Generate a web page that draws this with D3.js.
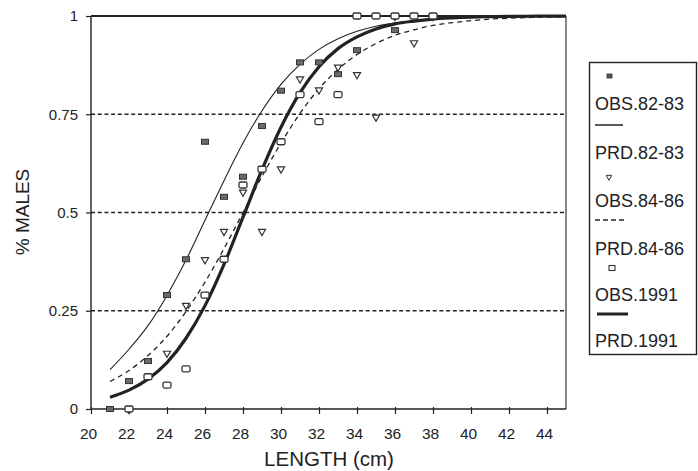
<!DOCTYPE html>
<html>
<head>
<meta charset="utf-8">
<script src="https://cdn.jsdelivr.net/npm/d3@7/dist/d3.min.js"></script>
<style>
  html, body { margin: 0; padding: 0; background: #fff; }
  svg { display: block; }
  text { font-family: "Liberation Sans", Arial, sans-serif; fill: #222; }
</style>
</head>
<body>
<svg id="chart" width="698" height="471"></svg>
<script>
// Fish length classes (cm)
const lengths = [21,22,23,24,25,26,27,28,29,30,31,32,33,34,35,36,37,38,39,40,41,42,43,44,45];

// Observed proportion of males per length class (null = no sample)
const obs8283 = [0,0.071,0.122,0.29,0.381,0.68,0.54,0.591,0.72,0.81,0.882,0.882,0.852,0.913,1,0.964,1,1,null,null,null,null,null,null,null];
const obs8486 = [null,0,null,0.143,0.265,0.381,0.453,0.553,0.453,0.612,0.841,0.813,0.871,0.852,0.744,1,0.933,1,null,null,null,null,null,null,null];
const obs1991 = [null,0,0.082,0.061,0.102,0.29,0.381,0.57,0.61,0.68,0.80,0.731,0.80,1,1,1,1,1,null,null,null,null,null,null,null];

// Predicted (fitted) proportions per length class
const prd8283 = [0.100,0.152,0.212,0.289,0.379,0.480,0.581,0.677,0.759,0.826,0.877,0.915,0.942,0.961,0.974,0.982,0.988,0.992,0.995,0.9965,0.998,0.9985,0.999,0.9993,0.9996];
const prd8486 = [0.070,0.098,0.136,0.185,0.248,0.323,0.408,0.500,0.592,0.677,0.752,0.815,0.864,0.902,0.930,0.951,0.965,0.976,0.983,0.988,0.992,0.9944,0.996,0.9973,0.998];
const prd1991 = [0.030,0.048,0.076,0.118,0.180,0.263,0.368,0.488,0.609,0.717,0.805,0.871,0.917,0.947,0.967,0.980,0.987,0.992,0.995,0.9971,0.9982,0.9989,0.9993,0.9996,0.9998];

const xTicks = [20,22,24,26,28,30,32,34,36,38,40,42,44];
const yTicks = [0,0.25,0.5,0.75,1];
const yTickLabels = ["0","0.25","0.5","0.75","1"];
const legendLabels = ["OBS.82-83","PRD.82-83","OBS.84-86","PRD.84-86","OBS.1991","PRD.1991"];

const svg = d3.select("#chart");
const x = d3.scaleLinear().domain([20,45]).range([91,566]);
const y = d3.scaleLinear().domain([0,1]).range([409,16]);
const ink = "#222";

// Dotted reference lines
svg.append("g").selectAll("line")
  .data(yTicks.filter(v => v > 0 && v < 1))
  .join("line")
  .attr("x1", x(20)).attr("x2", x(45))
  .attr("y1", d => y(d)).attr("y2", d => y(d))
  .attr("stroke", ink).attr("stroke-width", 1.6)
  .attr("stroke-dasharray", "4,2.7");

// Frame: heavy top edge, thin right edge
svg.append("line").attr("x1", x(20)).attr("x2", x(45))
  .attr("y1", y(1)).attr("y2", y(1))
  .attr("stroke", ink).attr("stroke-width", 2);
svg.append("line").attr("x1", x(45)).attr("x2", x(45))
  .attr("y1", y(1)).attr("y2", y(0))
  .attr("stroke", ink).attr("stroke-width", 1.1);

// Axes
const xAxis = d3.axisBottom(x).tickValues(xTicks).tickSize(5).tickSizeOuter(0).tickPadding(14);
const gx = svg.append("g").attr("transform", `translate(0,${y(0)})`).call(xAxis);
gx.select(".domain").attr("stroke", ink).attr("stroke-width", 1.4).attr("d", `M${x(20)},0H${x(45)}`);
gx.selectAll(".tick line").attr("stroke", ink).attr("stroke-width", 1.2).attr("y1", -2);
gx.selectAll(".tick text").attr("font-size", 15.5).attr("fill", ink).attr("dx", -3)
  .attr("font-family", "Liberation Sans, Arial, sans-serif");

const yAxis = d3.axisLeft(y).tickValues(yTicks).tickFormat((d, i) => yTickLabels[i]).tickSize(5).tickSizeOuter(0).tickPadding(8);
const gy = svg.append("g").attr("transform", `translate(${x(20)},0)`).call(yAxis);
gy.select(".domain").attr("stroke", ink).attr("stroke-width", 1.4).attr("d", `M0,${y(1)}V${y(0)}`);
gy.selectAll(".tick line").attr("stroke", ink).attr("stroke-width", 1.2);
gy.selectAll(".tick text").attr("font-size", 15).attr("fill", ink)
  .attr("font-family", "Liberation Sans, Arial, sans-serif");

// Axis titles
svg.append("text").attr("x", 329).attr("y", 466).attr("text-anchor", "middle")
  .attr("font-size", 20.5).text("LENGTH (cm)");
svg.append("text").attr("transform", "translate(29,212) rotate(-90)").attr("text-anchor", "middle")
  .attr("font-size", 19).text("% MALES");

// Fitted curves
const line = d3.line().curve(d3.curveMonotoneX).x(d => x(d[0])).y(d => y(d[1]));
const pairs = vals => lengths.map((l, i) => [l, vals[i]]);
svg.append("path").attr("d", line(pairs(prd8283))).attr("fill", "none")
  .attr("stroke", ink).attr("stroke-width", 1.1);
svg.append("path").attr("d", line(pairs(prd8486))).attr("fill", "none")
  .attr("stroke", ink).attr("stroke-width", 1.3).attr("stroke-dasharray", "5,4");
svg.append("path").attr("d", line(pairs(prd1991))).attr("fill", "none")
  .attr("stroke", ink).attr("stroke-width", 3.2);

// Observation markers
const pts = vals => lengths.map((l, i) => [l, vals[i]]).filter(d => d[1] !== null);
const tri = d3.symbol().type(d3.symbolTriangle).size(22);

svg.append("g").selectAll("rect").data(pts(obs8283)).join("rect")
  .attr("x", d => x(d[0]) - 3.5).attr("y", d => y(d[1]) - 2.5)
  .attr("width", 7).attr("height", 5)
  .attr("fill", "#6a6a6a").attr("stroke", "#333").attr("stroke-width", 1);

svg.append("g").selectAll("path").data(pts(obs8486)).join("path")
  .attr("d", tri)
  .attr("transform", d => `translate(${x(d[0])},${y(d[1]) + 0.5}) rotate(180)`)
  .attr("fill", "#fff").attr("stroke", "#333").attr("stroke-width", 1.2);

svg.append("g").selectAll("rect").data(pts(obs1991)).join("rect")
  .attr("x", d => x(d[0]) - 4).attr("y", d => y(d[1]) - 3)
  .attr("width", 8).attr("height", 6).attr("rx", 1.5)
  .attr("fill", "#fff").attr("stroke", "#333").attr("stroke-width", 1.3);

// Legend
const lg = svg.append("g");
lg.append("rect").attr("x", 589.5).attr("y", 62.5).attr("width", 107).attr("height", 292)
  .attr("fill", "#fff").attr("stroke", ink).attr("stroke-width", 1.4);

const textY = [103, 152, 200, 248, 294, 340];
const keyY = [76, 125, 177, 220, 268, 314];
lg.selectAll("text").data(legendLabels).join("text")
  .attr("x", 595).attr("y", (d, i) => textY[i] + 6.5)
  .attr("font-size", 18).text(d => d);

lg.append("rect").attr("x", 607).attr("y", keyY[0] - 2).attr("width", 5).attr("height", 4)
  .attr("fill", "#555").attr("stroke", "#333").attr("stroke-width", 0.8);
lg.append("line").attr("x1", 595).attr("x2", 623).attr("y1", keyY[1]).attr("y2", keyY[1])
  .attr("stroke", ink).attr("stroke-width", 1.5);
lg.append("path").attr("d", d3.symbol().type(d3.symbolTriangle).size(14))
  .attr("transform", `translate(609,${keyY[2]}) rotate(180)`)
  .attr("fill", "#fff").attr("stroke", "#333").attr("stroke-width", 1);
lg.append("line").attr("x1", 595).attr("x2", 626).attr("y1", keyY[3]).attr("y2", keyY[3])
  .attr("stroke", ink).attr("stroke-width", 1.3).attr("stroke-dasharray", "5,3");
lg.append("rect").attr("x", 609).attr("y", keyY[4] - 2.5).attr("width", 6).attr("height", 5)
  .attr("fill", "#fff").attr("stroke", "#333").attr("stroke-width", 1.1);
lg.append("line").attr("x1", 597).attr("x2", 628).attr("y1", keyY[5]).attr("y2", keyY[5])
  .attr("stroke", ink).attr("stroke-width", 3);
</script>
</body>
</html>
